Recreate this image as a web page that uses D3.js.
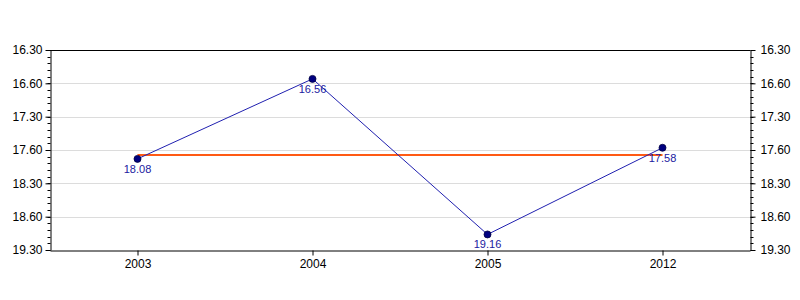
<!DOCTYPE html>
<html>
<head>
<meta charset="utf-8">
<script src="https://cdn.jsdelivr.net/npm/d3@7"></script>
<style>
  body { margin: 0; background: #fff; }
  svg { font-family: "Liberation Sans", Arial, sans-serif; }
  .grid line { stroke: #dcdcdc; }
  .axis path, .axis line { stroke: #000; }
</style>
</head>
<body>
<div id="chart"></div>
<script>
// categories and values (times as min.sec)
var years = ["2003", "2004", "2005", "2012"];
var times = ["18.08", "16.56", "19.16", "17.58"];

// y axis ticks (in minutes) and their printed labels
var yTickValues = [16.5, 17, 17.5, 18, 18.5, 19, 19.5];
var yTickLabels = ["16.30", "16.60", "17.30", "17.60", "18.30", "18.60", "19.30"];

var margin = {top: 50, right: 50, bottom: 50, left: 50},
    width = 800 - margin.left - margin.right,
    height = 300 - margin.top - margin.bottom;

function toMinutes(t) {
  var p = t.split(".");
  return +p[0] + (+p[1]) / 60;
}

var data = years.map(function(y, i) {
  return {year: y, label: times[i], value: toMinutes(times[i])};
});
var mean = d3.mean(data, function(d) { return d.value; });

var svg = d3.select("#chart")
  .append("svg")
  .attr("width", 800)
  .attr("height", 300)
  .append("g")
  .attr("transform", "translate(" + margin.left + "," + margin.top + ")");

var x = d3.scalePoint()
  .domain(years)
  .range([0, width])
  .padding(0.5);

var y = d3.scaleLinear()
  .domain([16.5, 19.5])
  .range([0, height]);

var minorTicks = d3.range(165, 196).map(function(d) { return d / 10; });

// gridlines
svg.append("g")
  .attr("class", "grid")
  .selectAll("line")
  .data(yTickValues.slice(1, -1))
  .enter().append("line")
  .attr("x1", 0)
  .attr("x2", width)
  .attr("y1", function(d) { return Math.round(y(d)) + 0.5; })
  .attr("y2", function(d) { return Math.round(y(d)) + 0.5; });

// top frame line
svg.append("line")
  .attr("x1", 0).attr("x2", width)
  .attr("y1", 0.5).attr("y2", 0.5)
  .attr("stroke", "#000");

// minor ticks, left and right
function minor(g, dir) {
  g.selectAll("line.minor")
    .data(minorTicks)
    .enter().append("line")
    .attr("class", "minor")
    .attr("stroke", "#000")
    .attr("x1", 0)
    .attr("x2", dir * 3)
    .attr("y1", function(d) { return Math.round(y(d)) + 0.5; })
    .attr("y2", function(d) { return Math.round(y(d)) + 0.5; });
}

var fmt = function(d) { return yTickLabels[yTickValues.indexOf(d)]; };

var left = svg.append("g")
  .attr("class", "axis")
  .attr("transform", "translate(0.5,0)")
  .call(d3.axisLeft(y).tickValues(yTickValues).tickFormat(fmt).tickSize(5).tickSizeOuter(0).tickPadding(3));
minor(left, -1);

var right = svg.append("g")
  .attr("class", "axis")
  .attr("transform", "translate(" + (width + 0.5) + ",0)")
  .call(d3.axisRight(y).tickValues(yTickValues).tickFormat(fmt).tickSize(5).tickSizeOuter(0).tickPadding(5));
minor(right, 1);

svg.selectAll(".axis text")
  .attr("font-size", "12px")
  .attr("fill", "#000");

var bottom = svg.append("g")
  .attr("class", "axis")
  .attr("transform", "translate(0," + (height + 0.5) + ")")
  .call(d3.axisBottom(x).tickSize(5).tickSizeOuter(0).tickPadding(4));
bottom.selectAll("text")
  .attr("font-size", "12px")
  .attr("fill", "#000");

// mean line
svg.append("line")
  .attr("x1", x(years[0]))
  .attr("x2", x(years[years.length - 1]))
  .attr("y1", y(mean))
  .attr("y2", y(mean))
  .attr("stroke", "#ff5a14")
  .attr("stroke-width", 2);

// series line
var line = d3.line()
  .x(function(d) { return x(d.year); })
  .y(function(d) { return y(d.value); });

svg.append("path")
  .datum(data)
  .attr("d", line)
  .attr("fill", "none")
  .attr("stroke", "#2020b0")
  .attr("stroke-width", 1);

svg.selectAll("circle.pt")
  .data(data)
  .enter().append("circle")
  .attr("class", "pt")
  .attr("cx", function(d) { return x(d.year); })
  .attr("cy", function(d) { return y(d.value); })
  .attr("r", 3.5)
  .attr("fill", "#000080")
  .attr("stroke", "#000040")
  .attr("stroke-width", 0.8);

svg.selectAll("text.val")
  .data(data)
  .enter().append("text")
  .attr("class", "val")
  .attr("x", function(d) { return x(d.year); })
  .attr("y", function(d) { return y(d.value) + 14; })
  .attr("text-anchor", "middle")
  .attr("font-size", "11px")
  .attr("fill", "#2020a0")
  .text(function(d) { return d.label; });
</script>
</body>
</html>
